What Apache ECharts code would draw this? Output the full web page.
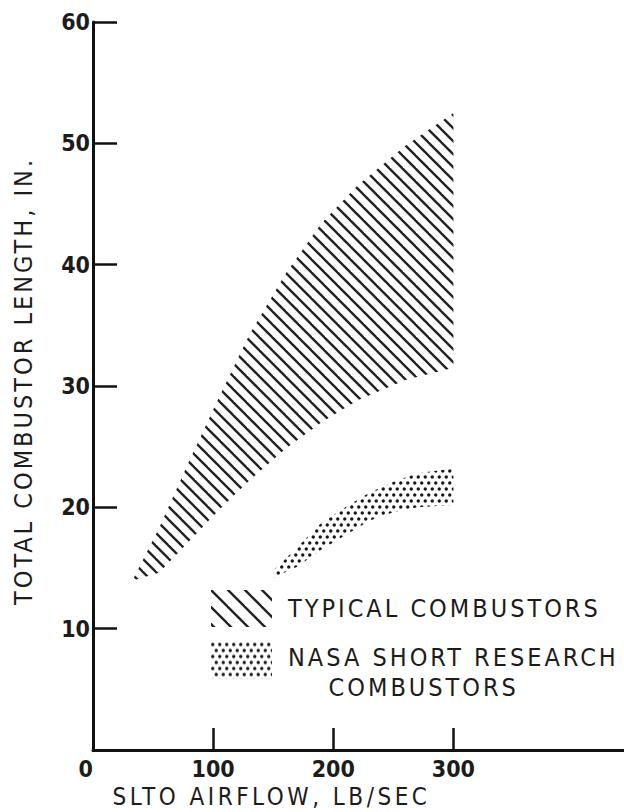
<!DOCTYPE html>
<html>
<head>
<meta charset="utf-8">
<script src="https://cdn.jsdelivr.net/npm/echarts@6/dist/echarts.min.js"></script>
<style>
  html, body { margin: 0; padding: 0; background: #ffffff; }
  #chart { width: 624px; height: 812px; }
  /* tracked lettering for titles and legend; plain spacing on the bold tick numerals */
  #chart text { letter-spacing: 3px; }
  #chart text[style*="24px"] { letter-spacing: 3.5px; }
  #chart text[style*="bold"] { letter-spacing: 0px; }
</style>
</head>
<body>
<div id="chart"></div>
<script>
// Typical combustors: airflow (lb/sec) with lower / upper length bounds (in.)
const typicalAirflow = [34, 55, 80, 105, 130, 160, 190, 220, 260, 300];
const typicalLower   = [14.0, 14.6, 17.2, 19.8, 22.2, 24.8, 27.0, 28.8, 30.5, 31.5];
const typicalUpper   = [14.2, 18.3, 23.8, 29.1, 34.2, 39.2, 43.4, 46.5, 49.8, 52.5];

// NASA short research combustors
const nasaAirflow = [150, 170, 190, 210, 230, 250, 270, 300];
const nasaLower   = [14.2, 15.1, 16.5, 17.7, 18.9, 19.6, 20.0, 20.2];
const nasaUpper   = [14.8, 16.7, 18.7, 20.0, 21.2, 22.1, 22.8, 23.2];

// Axis ticks and labels
const xTickValues  = [100, 200, 300];
const xLabelValues = [0, 100, 200, 300];
const yTickValues  = [10, 20, 30, 40, 50, 60];

const typicalName = 'TYPICAL COMBUSTORS';
const nasaName = 'NASA SHORT RESEARCH COMBUSTORS';
const nasaLegendLines = ['NASA SHORT RESEARCH', '\u00a0\u00a0\u00a0\u00a0COMBUSTORS'];
const xAxisTitle = 'SLTO AIRFLOW, LB/SEC';
const yAxisTitle = 'TOTAL COMBUSTOR LENGTH, IN.';

const FONT = '"Liberation Sans Narrow", "DejaVu Sans Condensed", "Liberation Sans", sans-serif';
const INK = '#1c1c1c';

// Diagonal "\" hatching tile
function hatchFill(period, width) {
  const c = document.createElement('canvas');
  c.width = period; c.height = period;
  const g = c.getContext('2d');
  g.strokeStyle = '#222222';
  g.lineWidth = width;
  for (const k of [-period, 0, period]) {
    g.beginPath();
    g.moveTo(k - 3, -3);
    g.lineTo(k + period + 3, period + 3);
    g.stroke();
  }
  return { image: c, repeat: 'repeat' };
}

// Staggered dot screen tile
function dotFill(dx, dy, r) {
  const c = document.createElement('canvas');
  c.width = dx; c.height = dy * 2;
  const g = c.getContext('2d');
  g.fillStyle = '#161616';
  [[dx / 4, dy / 2], [dx * 3 / 4, dy * 1.5]].forEach(([x, y]) => {
    g.beginPath(); g.arc(x, y, r, 0, Math.PI * 2); g.fill();
  });
  return { image: c, repeat: 'repeat' };
}

const hatchBand = hatchFill(13, 2.4);
const hatchKey = hatchFill(17, 2.4);
const dotBand = dotFill(7, 6, 1.7);

// One polygon per band: upper edge left to right, lower edge back
function bandRenderer(fill) {
  return function (params, api) {
    if (params.dataIndexInside !== 0) return null;
    const n = params.dataInsideLength;
    const top = [], bottom = [];
    for (let i = 0; i < n; i++) {
      top.push(api.coord([api.value(0, i), api.value(2, i)]));
      bottom.push(api.coord([api.value(0, i), api.value(1, i)]));
    }
    return {
      type: 'polygon',
      shape: { points: top.concat(bottom.reverse()) },
      style: { fill: fill, stroke: null }
    };
  };
}

const chart = echarts.init(document.getElementById('chart'), null, { renderer: 'svg' });

const legendBase = {
  orient: 'vertical',
  left: 211,
  padding: 0,
  icon: 'rect',
  itemWidth: 61,
  itemHeight: 37,
  selectedMode: false
};

const tickLabelStyle = { fontSize: 23, lineHeight: 20, fontWeight: 'bold', color: INK, fontFamily: FONT };

chart.setOption({
  animation: false,
  backgroundColor: '#ffffff',
  textStyle: { fontFamily: FONT, color: INK },
  grid: { left: 93, top: 22, right: 0, bottom: 62, outerBoundsMode: 'none' },
  xAxis: {
    type: 'value', min: 0, max: 442,
    axisLine: { show: true, onZero: false, lineStyle: { color: '#111', width: 3 } },
    axisTick: { show: true, inside: true, length: 22, customValues: xTickValues,
                lineStyle: { color: '#111', width: 2.5 } },
    axisLabel: Object.assign({ customValues: xLabelValues, margin: 9, alignMinLabel: 'right' }, tickLabelStyle),
    splitLine: { show: false },
    name: xAxisTitle, nameLocation: 'middle', nameGap: 37, nameMoveOverlap: false,
    nameTextStyle: { fontSize: 24, lineHeight: 20, color: INK, fontFamily: FONT, padding: [0, 174, 0, 0] }
  },
  yAxis: {
    type: 'value', min: 0, max: 60, interval: 10,
    axisLine: { show: true, onZero: false, lineStyle: { color: '#111', width: 3 } },
    axisTick: { show: true, inside: true, length: 24, customValues: yTickValues,
                lineStyle: { color: '#111', width: 2.5 } },
    axisLabel: Object.assign({ customValues: yTickValues, margin: 3 }, tickLabelStyle),
    splitLine: { show: false },
    name: yAxisTitle, nameLocation: 'middle', nameGap: 57, nameMoveOverlap: false,
    nameTextStyle: { fontSize: 25, color: INK, fontFamily: FONT, padding: [0, 0, 0, 10] }
  },
  legend: [
    Object.assign({}, legendBase, {
      top: 590,
      data: [{ name: typicalName, itemStyle: { color: hatchKey, borderWidth: 0 } }],
      textStyle: { fontSize: 25, color: INK, fontFamily: FONT, padding: [0, 0, 0, 11] }
    }),
    Object.assign({}, legendBase, {
      top: 618,
      data: [{ name: nasaName, itemStyle: { color: dotBand, borderWidth: 0 } }],
      formatter: function () {
        return '{gap|\u00a0}\n{t|' + nasaLegendLines[0] + '}\n{t|' + nasaLegendLines[1] + '}';
      },
      textStyle: {
        color: INK, fontFamily: FONT, padding: [0, 0, 0, 11],
        rich: {
          gap: { fontSize: 4, lineHeight: 24, height: 24 },
          t: { fontSize: 25, lineHeight: 30, color: INK, fontFamily: FONT }
        }
      }
    })
  ],
  series: [
    {
      name: typicalName, type: 'custom', silent: true,
      encode: { x: 0, y: [1, 2] },
      data: typicalAirflow.map((x, i) => [x, typicalLower[i], typicalUpper[i]]),
      renderItem: bandRenderer(hatchBand)
    },
    {
      name: nasaName, type: 'custom', silent: true,
      encode: { x: 0, y: [1, 2] },
      data: nasaAirflow.map((x, i) => [x, nasaLower[i], nasaUpper[i]]),
      renderItem: bandRenderer(dotBand)
    }
  ]
});
</script>
</body>
</html>
